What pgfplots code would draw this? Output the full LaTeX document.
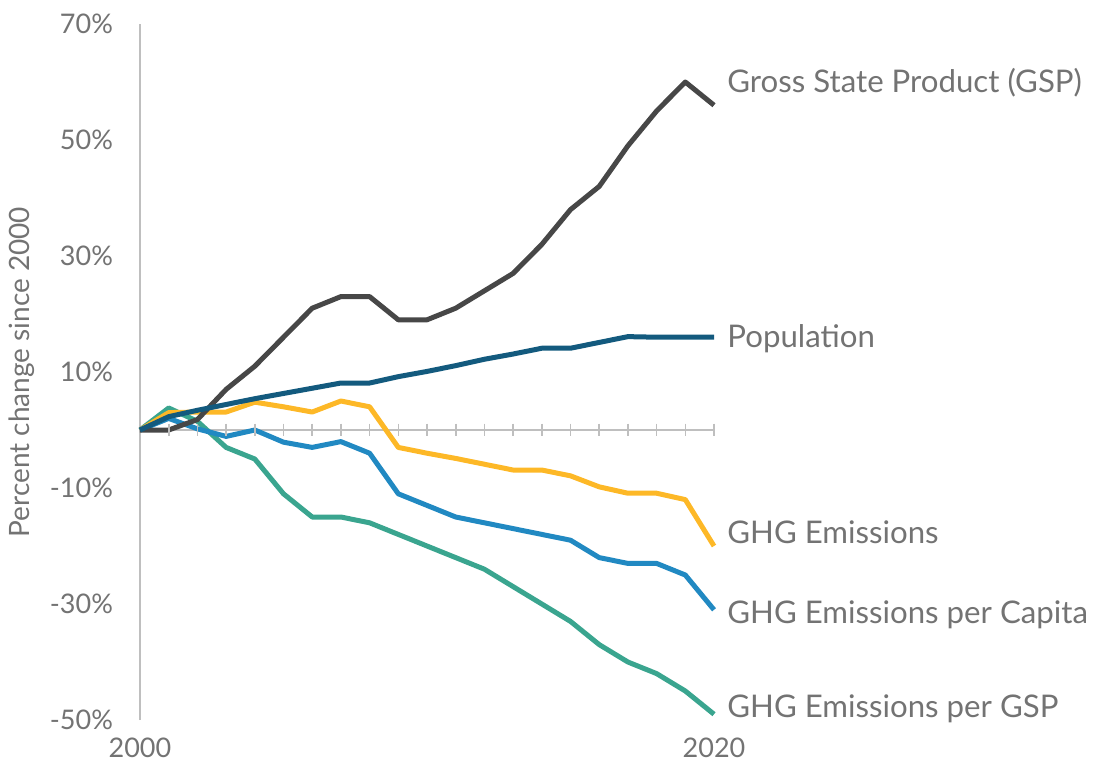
\documentclass[border=0pt]{standalone}
\usepackage{pgfplots}
\pgfplotsset{compat=1.18}
\usepackage{fontspec}
\setmainfont{Lato}
\definecolor{txt}{HTML}{737373}
\definecolor{axgray}{HTML}{BFBFBF}
\definecolor{cgsp}{HTML}{474747}
\definecolor{cpop}{HTML}{135A7E}
\definecolor{cghg}{HTML}{FDB827}
\definecolor{ccap}{HTML}{2189C2}
\definecolor{cper}{HTML}{3AA58F}
\begin{document}
\begin{tikzpicture}
\begin{axis}[
  at={(0,0)}, anchor=south west,
  scale only axis, width=287pt, height=348pt,
  xmin=2000, xmax=2020, ymin=-50, ymax=70,
  axis x line=none,
  axis y line*=left,
  y axis line style={axgray, line width=0.8pt, -},
  ytick={-50,-30,-10,10,30,50,70},
  yticklabels={-50\%,-30\%,-10\%,10\%,30\%,50\%,70\%},
  major tick length=0pt,
  yticklabel style={font=\fontsize{13.5}{16}\selectfont, text=txt, xshift=-10pt},
  ylabel={Percent change since 2000},
  ylabel style={font=\fontsize{14}{16}\selectfont, text=txt, yshift=1pt},
  clip=false,
  every axis plot/.append style={line width=2.5pt, line join=round},
]
% zero line with year ticks
\addplot[axgray, line width=1pt, forget plot] coordinates {(2000,0) (2020,0)};
\addplot[axgray, line width=0.8pt, only marks, mark=|, mark size=3.2pt, forget plot] coordinates {
(2001,0)(2002,0)(2003,0)(2004,0)(2005,0)(2006,0)(2007,0)(2008,0)(2009,0)(2010,0)
(2011,0)(2012,0)(2013,0)(2014,0)(2015,0)(2016,0)(2017,0)(2018,0)(2019,0)(2020,0)};
% GHG per GSP
\addplot[cper] coordinates {
(2000,0)(2001,3.8)(2002,1.5)(2003,-3)(2004,-5)(2005,-11)(2006,-15)(2007,-15)(2008,-16)(2009,-18)(2010,-20)
(2011,-22)(2012,-24)(2013,-27)(2014,-30)(2015,-33)(2016,-37)(2017,-40)(2018,-42)(2019,-45)(2020,-49)};
% GHG emissions
\addplot[cghg] coordinates {
(2000,0)(2001,3)(2002,3.1)(2003,3.1)(2004,4.8)(2005,4.0)(2006,3.1)(2007,5.0)(2008,4.0)(2009,-3.0)(2010,-4.0)
(2011,-4.9)(2012,-5.9)(2013,-6.9)(2014,-6.9)(2015,-7.9)(2016,-9.8)(2017,-10.9)(2018,-10.9)(2019,-12)(2020,-20)};
% GHG per capita
\addplot[ccap] coordinates {
(2000,0)(2001,2.0)(2002,0.2)(2003,-1.1)(2004,0)(2005,-2.1)(2006,-3.0)(2007,-2.0)(2008,-4.0)(2009,-11)(2010,-13)
(2011,-15)(2012,-16)(2013,-17)(2014,-18)(2015,-19)(2016,-22)(2017,-23)(2018,-23)(2019,-25)(2020,-31)};
% GSP
\addplot[cgsp] coordinates {
(2000,0)(2001,0)(2002,1.8)(2003,7)(2004,11)(2005,16)(2006,21)(2007,23)(2008,23)(2009,19)(2010,19)
(2011,21)(2012,24)(2013,27)(2014,32)(2015,38)(2016,42)(2017,49)(2018,55)(2019,60)(2020,56)};
% Population
\addplot[cpop] coordinates {
(2000,0)(2001,2.3)(2002,3.4)(2003,4.4)(2004,5.4)(2005,6.3)(2006,7.2)(2007,8.1)(2008,8.1)(2009,9.2)(2010,10.1)
(2011,11.1)(2012,12.2)(2013,13.1)(2014,14.1)(2015,14.1)(2016,15.1)(2017,16.1)(2018,16)(2019,16)(2020,16)};
% labels
\begin{scope}[every node/.style={font=\fontsize{15.6}{18}\selectfont, text=txt, anchor=west, inner sep=0pt}]
\node at ([xshift=6.5pt]axis cs:2020,59.8) {Gross State Product (GSP)};
\node at ([xshift=6.5pt]axis cs:2020,15.7) {Population};
\node at ([xshift=6.5pt]axis cs:2020,-17.6) {GHG Emissions};
\node at ([xshift=6.5pt]axis cs:2020,-31.9) {GHG Emissions per Capita};
\node at ([xshift=6.5pt]axis cs:2020,-48.1) {GHG Emissions per GSP};
\end{scope}
\node[font=\fontsize{13.5}{16}\selectfont, text=txt, anchor=north, inner sep=0pt] at ([yshift=-9pt]axis cs:2000,-50) {2000};
\node[font=\fontsize{13.5}{16}\selectfont, text=txt, anchor=north, inner sep=0pt] at ([yshift=-9pt]axis cs:2020,-50) {2020};
\end{axis}
\pgfresetboundingbox
\path[use as bounding box] (-70pt,-23.5pt) rectangle (478pt,360pt);
\end{tikzpicture}
\end{document}
